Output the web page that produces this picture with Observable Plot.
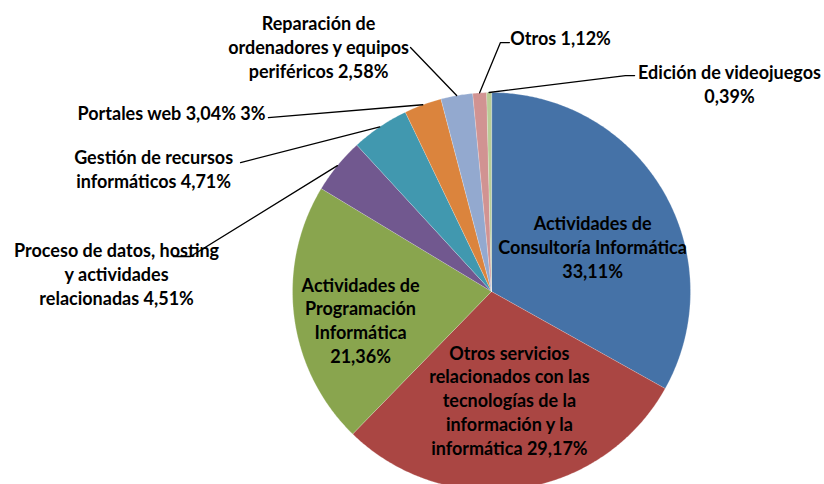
<!DOCTYPE html>
<html><head><meta charset="utf-8">
<script src="https://cdn.jsdelivr.net/npm/d3@7"></script>
<script src="https://cdn.jsdelivr.net/npm/@observablehq/plot@0.6"></script>
<style>body{margin:0;background:#fff}</style>
</head><body><div id="chart"></div>
<script>
// Data
const categories = [
  "Actividades de Consultoría Informática",
  "Otros servicios relacionados con las tecnologías de la información y la informática",
  "Actividades de Programación Informática",
  "Proceso de datos, hosting y actividades relacionadas",
  "Gestión de recursos informáticos",
  "Portales web",
  "Reparación de ordenadores y equipos periféricos",
  "Otros",
  "Edición de videojuegos"
];
const values = [33.11, 29.17, 21.36, 4.51, 4.71, 3.04, 2.58, 1.12, 0.39];
const labelTexts = [
  "Actividades de\nConsultoría Informática\n33,11%",
  "Otros servicios\nrelacionados con las\ntecnologías de la\ninformación y la\ninformática 29,17%",
  "Actividades de\nProgramación\nInformática\n21,36%",
  "Proceso de datos, hosting\ny actividades\nrelacionadas 4,51%",
  "Gestión de recursos\ninformáticos 4,71%",
  "Portales web 3,04% 3%",
  "Reparación de\nordenadores y equipos\nperiféricos 2,58%",
  "Otros 1,12%",
  "Edición de videojuegos\n0,39%"
];
const colors = ["#4572A7", "#AA4643", "#89A54E", "#71588F", "#4198AF", "#DB843D", "#93A9CF", "#D19392", "#B9CD96"];

// Label placement (in pie-radius units, relative to the pie centre)
const labelU = [0.508, 0.090, -0.658, -1.884, -1.698, -1.608, -0.869, 0.347, 1.196];
const labelV = [0.226, -0.543, -0.141, 0.090, 0.618, 0.899, 1.231, 1.276, 1.045];
// Leader line elbows (radius units), null = no leader
const leaderElbows = [
  null, null, null,
  [[-1.513, 0.176], [-1.598, 0.176]],
  [[-1.261, 0.648]],
  [[-1.121, 0.874]],
  [[-0.407, 1.226]],
  [[0.045, 1.251], [0.090, 1.251]],
  [[0.673, 1.085], [0.719, 1.085]]
];

// Geometry
const total = d3.sum(values);
const pie = [];
let acc = 0;
values.forEach((v, i) => {
  const a0 = acc / total * 2 * Math.PI;
  acc += v;
  const a1 = acc / total * 2 * Math.PI;
  pie.push({cat: categories[i], a0, a1, mid: (a0 + a1) / 2});
});
const slicePts = [];
pie.forEach(s => {
  slicePts.push({cat: s.cat, x: 0, y: 0});
  const n = Math.max(2, Math.ceil((s.a1 - s.a0) / (Math.PI / 360)));
  for (let k = 0; k <= n; k++) {
    const a = s.a0 + (s.a1 - s.a0) * k / n;
    slicePts.push({cat: s.cat, x: Math.sin(a), y: Math.cos(a)});
  }
});
const leaderPts = [];
pie.forEach((s, i) => {
  if (!leaderElbows[i]) return;
  leaderPts.push({cat: s.cat, x: Math.sin(s.mid), y: Math.cos(s.mid)});
  leaderElbows[i].forEach(([u, v]) => leaderPts.push({cat: s.cat, x: u, y: v}));
});
const labelData = categories.map((c, i) => ({cat: c, x: labelU[i], y: labelV[i], text: labelTexts[i]}));

const cx = 491, cy = 291, R = 199, W = 824, H = 484;
const chart = Plot.plot({
  width: W, height: H,
  margin: 0,
  x: {domain: [-cx / R, (W - cx) / R], axis: null},
  y: {domain: [-(H - cy) / R, cy / R], axis: null},
  color: {domain: categories, range: colors},
  style: {fontFamily: "Lato, 'Open Sans', sans-serif", background: "#fff"},
  marks: [
    Plot.line(slicePts, {x: "x", y: "y", z: "cat", fill: "cat", stroke: "#fff", strokeWidth: 0.4, strokeOpacity: 0.6, curve: "linear-closed"}),
    Plot.line(leaderPts, {x: "x", y: "y", z: "cat", stroke: "#000", strokeWidth: 1.3}),
    Plot.text(labelData, {x: "x", y: "y", text: "text", fontSize: 18, fontWeight: "bold", fill: "#000", lineHeight: 1.32})
  ]
});
document.getElementById("chart").append(chart);
</script>
</body></html>
